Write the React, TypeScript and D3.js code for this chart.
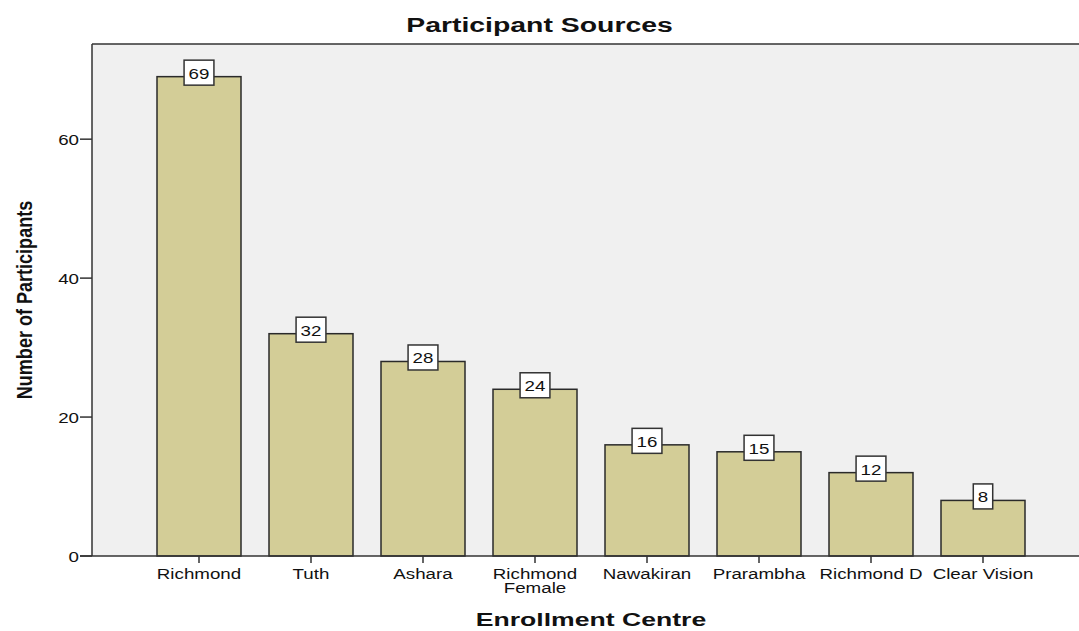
import * as d3 from "d3";

const centres = [
  "Richmond",
  "Tuth",
  "Ashara",
  "Richmond Female",
  "Nawakiran",
  "Prarambha",
  "Richmond D",
  "Clear Vision",
];
const participants = [69, 32, 28, 24, 16, 15, 12, 8];
const yTicks = [0, 20, 40, 60];
const yMax = 73.7;

const W = 1079;
const H = 631;
const plot = { left: 92, top: 44, right: 1079, bottom: 556 };
const font = "'Liberation Sans', Arial, sans-serif";
const stretch = 1.25;

function Txt(props: {
  x: number;
  y: number;
  size: number;
  sx?: number;
  anchor?: string;
  bold?: boolean;
  children: any;
}) {
  const { x, y, size, sx = stretch, anchor = "middle", bold = false } = props;
  return (
    <g transform={`translate(${x},${y}) scale(${sx},1)`}>
      <text
        textAnchor={anchor}
        fontFamily={font}
        fontSize={size}
        fontWeight={bold ? "bold" : "normal"}
        fill="#111"
      >
        {props.children}
      </text>
    </g>
  );
}

export default function App() {
  const x = d3
    .scaleBand<string>()
    .domain(centres)
    .range([143, 1039])
    .paddingInner(0.25)
    .paddingOuter(0.125);
  const y = d3.scaleLinear().domain([0, yMax]).range([plot.bottom, plot.top]);

  const digitW = 15 * 0.556 * stretch;

  return (
    <div style={{ position: "absolute", left: 0, top: 0 }}>
      <svg width={W} height={H} style={{ display: "block", background: "#fff" }}>
        <rect
          x={plot.left}
          y={plot.top}
          width={plot.right - plot.left}
          height={plot.bottom - plot.top}
          fill="#f0f0f0"
        />
        {/* frame */}
        <line x1={plot.left} x2={plot.right} y1={plot.top} y2={plot.top} stroke="#333" strokeWidth={1.5} />
        <line x1={plot.left} x2={plot.left} y1={plot.top} y2={plot.bottom} stroke="#333" strokeWidth={1.5} />

        {/* bars */}
        {centres.map((c, i) => (
          <rect
            key={c}
            x={x(c)}
            y={y(participants[i])}
            width={x.bandwidth()}
            height={plot.bottom - y(participants[i])}
            fill="#d3cd97"
            stroke="#2a2a2a"
            strokeWidth={1.5}
          />
        ))}

        <line x1={plot.left - 12} x2={plot.right} y1={plot.bottom} y2={plot.bottom} stroke="#333" strokeWidth={1.5} />

        {/* y axis */}
        {yTicks.map((t) => (
          <g key={t}>
            <line x1={plot.left - 12} x2={plot.left} y1={y(t)} y2={y(t)} stroke="#333" strokeWidth={1.5} />
            <Txt x={plot.left - 13} y={y(t) + 6} size={15} anchor="end">
              {t}
            </Txt>
          </g>
        ))}

        {/* x axis */}
        {centres.map((c) => {
          const cx = x(c)! + x.bandwidth() / 2;
          const lines = c.length > 12 ? c.split(" ") : [c];
          return (
            <g key={c}>
              <line x1={cx} x2={cx} y1={plot.bottom} y2={plot.bottom + 7} stroke="#333" strokeWidth={1.5} />
              {lines.map((l, k) => (
                <Txt key={k} x={cx} y={579 + k * 14} size={15}>
                  {l}
                </Txt>
              ))}
            </g>
          );
        })}

        {/* value labels */}
        {centres.map((c, i) => {
          const cx = x(c)! + x.bandwidth() / 2;
          const s = String(participants[i]);
          const bw = s.length * digitW + 9;
          const cy = y(participants[i]) - 4;
          return (
            <g key={c}>
              <rect
                x={cx - bw / 2}
                y={cy - 12.5}
                width={bw}
                height={25}
                fill="#fff"
                stroke="#333"
                strokeWidth={1.5}
              />
              <Txt x={cx} y={cy + 6} size={15}>
                {s}
              </Txt>
            </g>
          );
        })}

        <Txt x={W / 2} y={32} size={20} sx={1.42} bold>
          Participant Sources
        </Txt>
        <Txt x={591} y={626} size={19} sx={1.4} bold>
          Enrollment Centre
        </Txt>
        <g transform={`translate(32,300) rotate(-90) scale(0.95,1.2)`}>
          <text
            textAnchor="middle"
            fontFamily="'Liberation Sans Narrow', 'Liberation Sans', Arial, sans-serif"
            fontSize={19}
            fontWeight="bold"
            fill="#111"
          >
            Number of Participants
          </text>
        </g>
      </svg>
    </div>
  );
}
